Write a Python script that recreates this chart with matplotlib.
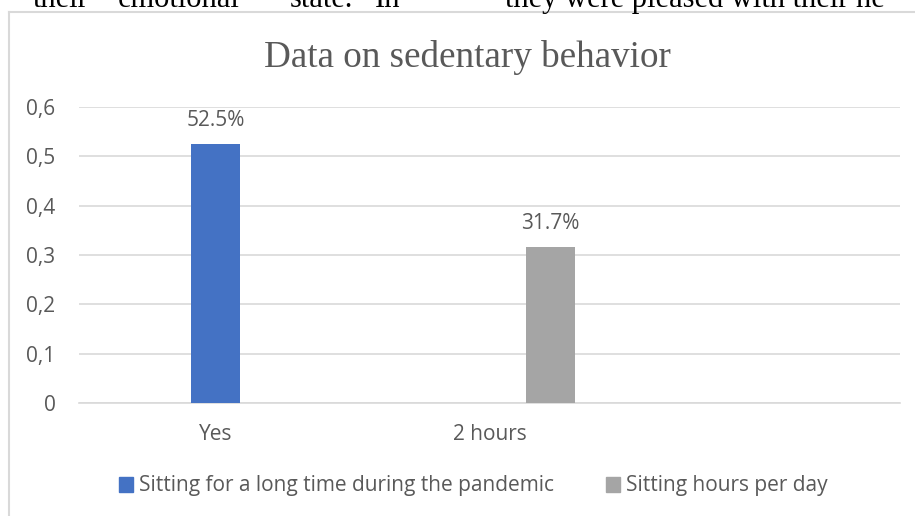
import numpy as np
import matplotlib
matplotlib.use("Agg")
import matplotlib.pyplot as plt
from matplotlib.patches import Patch
from matplotlib.lines import Line2D

categories = ["Yes", "2 hours", ""]
series_names = ["Sitting for a long time during the pandemic", "Sitting hours per day"]
sitting_long = [0.525, np.nan, np.nan]
sitting_hours = [np.nan, 0.317, np.nan]
yticks = [0, 0.1, 0.2, 0.3, 0.4, 0.5, 0.6]
ytick_labels = ["0", "0,1", "0,2", "0,3", "0,4", "0,5", "0,6"]
title = "Data on sedentary behavior"
# words of the document line cut off above the chart
doc_words = [("their", 33), ("emotional", 118), ("state.", 290), ("In", 375),
             ("they were pleased with their he", 505)]

W, H = 915, 516
colors = ["#4472C4", "#A5A5A5"]
offsets = [0.0, 0.222]
bar_w = 0.179
txt = "#595959"
grid = "#D9D9D9"
sans = "Open Sans"

fig = plt.figure(figsize=(W / 100, H / 100), dpi=100)

def fx(px):
    return px / W

def fy(py):
    return 1 - py / H

# document text at top (cropped)
for word, x in doc_words:
    fig.text(fx(x), fy(7), word, fontsize=22, family="Liberation Serif",
             color="black", va="baseline", ha="left")

# chart frame
fig.add_artist(Line2D([fx(8.5), fx(8.5)], [fy(11.5), 0], color=grid, lw=1.5))
fig.add_artist(Line2D([fx(8.5), 1], [fy(11.5), fy(11.5)], color=grid, lw=1.5))

ax = fig.add_axes([fx(79), fy(403), fx(900) - fx(79), fy(107) - fy(403)])
x = np.arange(len(categories))
for vals, name, col, off in zip([sitting_long, sitting_hours], series_names, colors, offsets):
    ax.bar(x + off, vals, width=bar_w, color=col, label=name, zorder=3)
    for xi, v in zip(x, vals):
        if not np.isnan(v):
            ax.annotate(f"{v * 100:.1f}%", (xi + off, v), xytext=(0, 9),
                        textcoords="offset points", ha="center", va="bottom",
                        fontsize=15, family=sans, color=txt)

ax.set_xlim(-0.5, len(categories) - 0.5)
ax.set_ylim(0, 0.6)
ax.set_yticks(yticks)
ax.set_yticklabels(ytick_labels)
ax.set_xticks(x)
ax.set_xticklabels(categories)
ax.grid(axis="y", color=grid, lw=1.2, zorder=0)
ax.tick_params(length=0, labelsize=15, labelcolor=txt)
ax.tick_params(axis="y", pad=17)
ax.tick_params(axis="x", pad=15)
for lab in ax.get_xticklabels() + ax.get_yticklabels():
    lab.set_family(sans)
for s in ["top", "right", "left"]:
    ax.spines[s].set_visible(False)
ax.spines["bottom"].set_color(grid)
ax.spines["bottom"].set_linewidth(1.2)

fig.text(fx(467.5), fy(67), title, fontsize=26.7, family="Liberation Serif",
         color=txt, ha="center", va="baseline")

handles = [Patch(color=c, label=n) for c, n in zip(colors, series_names)]
fig.legend(handles=handles, loc="center", bbox_to_anchor=(fx(473), fy(486)),
           ncol=2, frameon=False, prop={"family": sans, "size": 15},
           handlelength=0.7, handleheight=0.7, handletextpad=0.25,
           columnspacing=2.5, labelcolor=txt)

fig.savefig("out.png", dpi=100)
